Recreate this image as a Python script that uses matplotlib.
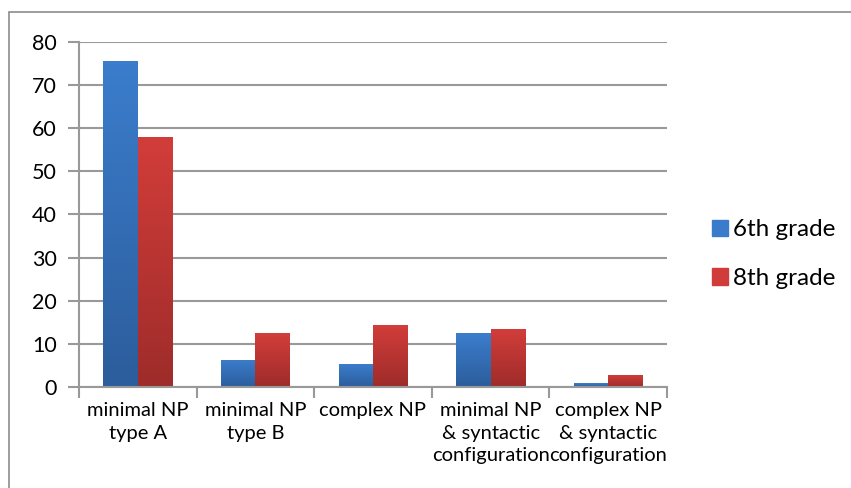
import numpy as np
import matplotlib.pyplot as plt
from matplotlib.patches import Rectangle
from matplotlib.colors import LinearSegmentedColormap

# data
categories = ['minimal NP\ntype A', 'minimal NP\ntype B', 'complex NP',
              'minimal NP\n& syntactic\nconfiguration',
              'complex NP\n& syntactic\nconfiguration']
grade6 = [75.5, 6.3, 5.3, 12.5, 0.9]
grade8 = [58.0, 12.5, 14.4, 13.4, 2.8]
series_names = ['6th grade', '8th grade']

plt.rcParams['font.family'] = ['Lato', 'DejaVu Sans']

fig = plt.figure(figsize=(8.51, 4.88), dpi=100)
ax = fig.add_axes([0.0928, 0.207, 0.691, 0.707])

# outer frame of the chart area
fig.patches.append(Rectangle((9 / 851, -0.1), 1.2, 1 - 12 / 488 + 0.1,
                             transform=fig.transFigure, fill=False,
                             edgecolor='#8c8c8c', linewidth=1.2))

x = np.arange(len(categories))
w = 0.293
blue_cmap = LinearSegmentedColormap.from_list('b', ['#2c5d9c', '#3b7dcc'])
red_cmap = LinearSegmentedColormap.from_list('r', ['#9e2c2a', '#d23d3a'])

bars6 = ax.bar(x - w / 2, grade6, w, color='#3a7bcb', zorder=3, label=series_names[0])
bars8 = ax.bar(x + w / 2, grade8, w, color='#cf3c39', zorder=3, label=series_names[1])

# gradient fill on each bar
grad = np.linspace(0, 1, 100).reshape(-1, 1)
for bars, cmap in [(bars6, blue_cmap), (bars8, red_cmap)]:
    for b in bars:
        x0, y0 = b.get_x(), b.get_y()
        im = ax.imshow(grad, cmap=cmap, origin='lower', aspect='auto',
                       extent=[x0, x0 + b.get_width(), y0, y0 + b.get_height()],
                       zorder=3.5)
        im.set_clip_path(b)

ax.set_xlim(-0.5, len(categories) - 0.5)
ax.set_ylim(0, 80)
ax.set_yticks(range(0, 81, 10))
ax.yaxis.grid(True, color='#999999', linewidth=1.5, zorder=0)
ax.set_axisbelow(True)

for s in ['top', 'right']:
    ax.spines[s].set_visible(False)
for s in ['left', 'bottom']:
    ax.spines[s].set_color('#999999')
    ax.spines[s].set_linewidth(1.5)
ax.spines['bottom'].set_zorder(4)

# category labels between boundary ticks
ax.set_xticks(np.arange(-0.5, len(categories), 1.0))
ax.set_xticklabels([])
ax.set_xticks(x, minor=True)
ax.set_xticklabels(categories, minor=True, fontsize=14.5, linespacing=1.38, va='top')
ax.tick_params(axis='x', which='minor', length=0, pad=11)
ax.tick_params(axis='x', which='major', length=8, width=1.5, color='#999999')
ax.tick_params(axis='y', length=8, width=1.5, color='#999999', labelsize=15.5, pad=8)

leg = ax.legend(loc='center left', bbox_to_anchor=(1.04, 0.385), frameon=False,
                fontsize=17.5, handlelength=0.65, handleheight=0.65,
                labelspacing=1.15, handletextpad=0.2)
for h, c in zip(leg.legend_handles, ['#3a7bcb', '#cf3c39']):
    h.set_color(c)

fig.savefig('out.png', dpi=100)
